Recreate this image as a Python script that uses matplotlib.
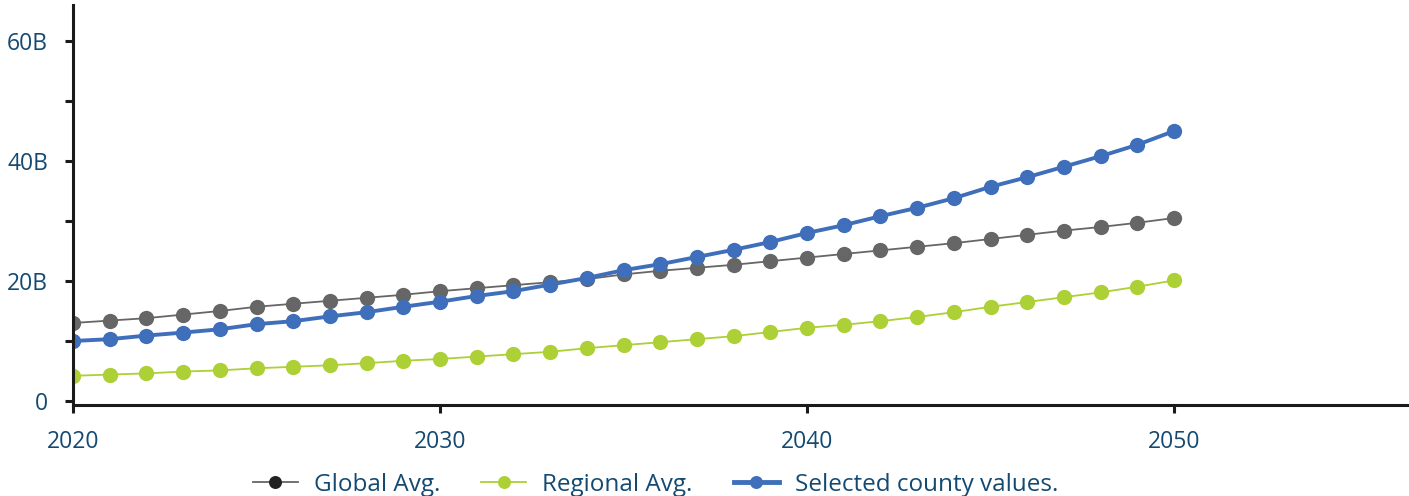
import matplotlib
matplotlib.use("Agg")
import matplotlib.pyplot as plt
from matplotlib.ticker import FuncFormatter, MultipleLocator

plt.rcParams['font.family'] = ['Open Sans', 'DejaVu Sans']

years = list(range(2020, 2051))

# values in billions
global_avg = [13.0, 13.4, 13.8, 14.4, 15.0, 15.7, 16.2, 16.7, 17.2, 17.7,
              18.3, 18.8, 19.3, 19.8, 20.3, 21.1, 21.7, 22.2, 22.7, 23.3,
              23.9, 24.5, 25.1, 25.7, 26.3, 27.0, 27.7, 28.4, 29.0, 29.7, 30.5]
regional_avg = [4.2, 4.4, 4.6, 4.9, 5.1, 5.45, 5.7, 5.95, 6.3, 6.7,
                7.0, 7.4, 7.8, 8.2, 8.8, 9.3, 9.8, 10.3, 10.8, 11.5,
                12.2, 12.7, 13.3, 14.0, 14.8, 15.7, 16.5, 17.3, 18.1, 19.05, 20.1]
county_vals = [10.0, 10.3, 10.9, 11.4, 11.95, 12.8, 13.3, 14.1, 14.8, 15.7,
               16.55, 17.5, 18.3, 19.4, 20.5, 21.8, 22.8, 24.0, 25.2, 26.5,
               28.0, 29.3, 30.8, 32.2, 33.8, 35.7, 37.3, 39.05, 40.8, 42.7, 45.0]

labels = ['Global Avg.', 'Regional Avg.', 'Selected county values.']
text_col = '#144a72'

fig = plt.figure(figsize=(14.09, 4.96), dpi=100)
ax = fig.add_axes([73 / 1409, (496 - 405) / 496, 1 - 73 / 1409, 400 / 496])

ax.plot(years, global_avg, color='#666666', lw=1.3, marker='o', ms=11,
        markeredgewidth=0, label=labels[0])
ax.plot(years, regional_avg, color='#acd035', lw=1.3, marker='o', ms=11,
        markeredgewidth=0, label=labels[1])
ax.plot(years, county_vals, color='#3f6fba', lw=2.8, marker='o', ms=11,
        markeredgewidth=0, label=labels[2])

ax.set_xlim(2020, 2056.4)
ax.set_ylim(-0.67, 66)
ax.set_xticks([2020, 2030, 2040, 2050])
ax.yaxis.set_major_locator(MultipleLocator(20))
ax.yaxis.set_minor_locator(MultipleLocator(10))
ax.yaxis.set_major_formatter(FuncFormatter(lambda v, p: '0' if v == 0 else f'{v:.0f}B'))

for s in ['top', 'right']:
    ax.spines[s].set_visible(False)
for s in ['left', 'bottom']:
    ax.spines[s].set_linewidth(2.2)
    ax.spines[s].set_color('#1a1a1a')

ax.tick_params(axis='both', which='both', color='#1a1a1a', width=2.2,
               labelcolor=text_col, labelsize=16.5)
ax.tick_params(axis='y', which='major', length=6, pad=12)
ax.tick_params(axis='y', which='minor', length=6)
ax.tick_params(axis='x', length=6, pad=12)

leg = ax.legend(loc='center', bbox_to_anchor=(0.436, -0.2), ncol=3,
                frameon=False, handlelength=1.85, columnspacing=1.7,
                handletextpad=0.65, markerscale=0.85, labelcolor=text_col,
                prop={'size': 17.5})
leg.legend_handles[0].set_markerfacecolor('#222222')
leg.legend_handles[2].set_linewidth(3.5)

fig.savefig('out.png', dpi=100)
